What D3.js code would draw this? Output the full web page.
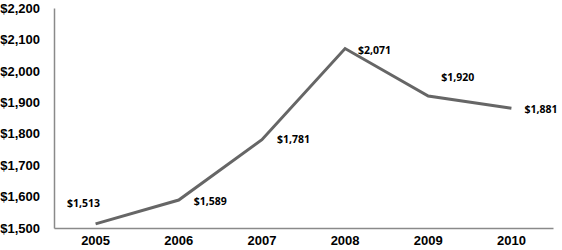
<!DOCTYPE html>
<html>
<head>
<meta charset="utf-8">
<script src="https://cdn.jsdelivr.net/npm/d3@7"></script>
<style>
  body { margin: 0; background: #fff; }
  svg { display: block; }
</style>
</head>
<body>
<div id="chart"></div>
<script>
// chart data
const years = ["2005", "2006", "2007", "2008", "2009", "2010"];
const values = [1513, 1589, 1781, 2071, 1920, 1881];
const yTicks = [1500, 1600, 1700, 1800, 1900, 2000, 2100, 2200];

// where each value label sits relative to its point
const labelDx = [-12, 15, 15, 13, 13, 13];
const labelDy = [-21, 1, 0, 2, -19, 1];

const width = 562, height = 250;
const margin = { top: 8, right: 9, bottom: 22, left: 54 };

const svg = d3.select("#chart").append("svg")
  .attr("width", width)
  .attr("height", height);

const x = d3.scaleBand()
  .domain(years)
  .range([margin.left, width - margin.right]);

const y = d3.scaleLinear()
  .domain([1500, 2200])
  .range([height - margin.bottom, margin.top]);

// y axis
const yAxis = svg.append("g")
  .attr("transform", `translate(${margin.left},0)`)
  .call(d3.axisLeft(y).tickValues(yTicks).tickSize(0).tickPadding(14)
    .tickFormat(d => "$" + d3.format(",")(d)));
yAxis.select(".domain").attr("stroke", "#8a8a8a").attr("stroke-width", 1.5);
yAxis.selectAll("text")
  .style("font-family", "'Liberation Sans', Arial, sans-serif")
  .style("font-weight", "bold")
  .style("font-size", "13px")
  .attr("fill", "#000");

// x axis
const xAxis = svg.append("g")
  .attr("transform", `translate(0,${height - margin.bottom})`)
  .call(d3.axisBottom(x).tickSize(0).tickPadding(8));
xAxis.select(".domain").attr("stroke", "#8a8a8a").attr("stroke-width", 1.5);
xAxis.selectAll("text")
  .style("font-family", "'Liberation Sans', Arial, sans-serif")
  .style("font-weight", "bold")
  .style("font-size", "13px")
  .attr("fill", "#000");

const cx = (d, i) => x(years[i]) + x.bandwidth() / 2;

const line = d3.line()
  .x(cx)
  .y(d => y(d));

svg.append("path")
  .datum(values)
  .attr("d", line)
  .attr("fill", "none")
  .attr("stroke", "#666")
  .attr("stroke-width", 3);

// value labels
svg.selectAll(".val")
  .data(values)
  .enter()
  .append("text")
  .attr("class", "val")
  .attr("x", (d, i) => cx(d, i) + labelDx[i])
  .attr("y", (d, i) => y(d) + labelDy[i])
  .attr("dy", "0.35em")
  .attr("text-anchor", (d, i) => labelDx[i] < 0 ? "middle" : "start")
  .style("font-family", "'Open Sans', sans-serif")
  .style("font-weight", 700)
  .style("font-size", "10.5px")
  .attr("fill", "#000")
  .text(d => "$" + d3.format(",")(d));
</script>
</body>
</html>
